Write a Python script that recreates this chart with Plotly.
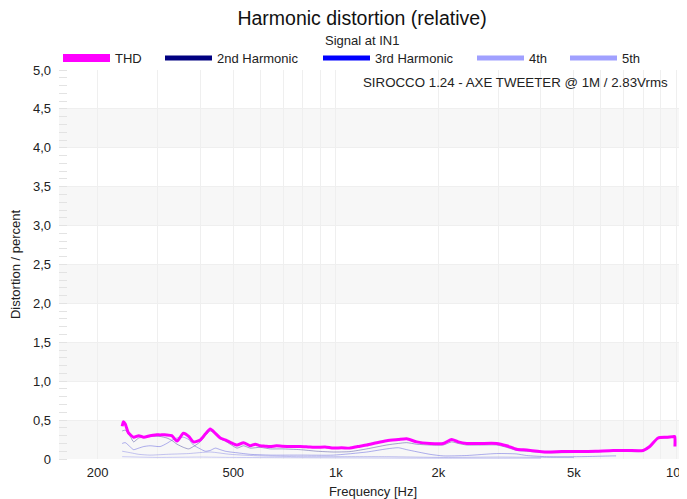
import plotly.graph_objects as go

# ---------------- data ----------------
thd_f = [236, 238, 241, 246, 255, 264, 273, 285, 295, 305, 319, 330, 342, 357, 370, 382,
         400, 414, 428, 443, 458, 474, 490, 513, 536, 561, 580, 600, 620, 642, 670, 695,
         740, 786, 830, 880, 930, 984, 1040, 1100, 1160, 1233, 1320, 1411, 1526, 1615,
         1728, 1891, 2068, 2189, 2288, 2422, 2650, 2966, 3174, 3395, 3632, 4157, 4600,
         5204, 5800, 6519, 7200, 7982, 8352, 8832, 9348, 9840, 9890, 9900]
thd_v = [0.42, 0.48, 0.45, 0.34, 0.28, 0.30, 0.28, 0.30, 0.31, 0.31, 0.31, 0.30, 0.23, 0.33, 0.29, 0.22,
         0.245, 0.32, 0.385, 0.33, 0.27, 0.245, 0.215, 0.18, 0.21, 0.17, 0.19, 0.17, 0.165, 0.16, 0.17, 0.165,
         0.16, 0.16, 0.155, 0.15, 0.155, 0.14, 0.145, 0.14, 0.16, 0.18, 0.21, 0.235, 0.25, 0.26,
         0.22, 0.20, 0.20, 0.25, 0.22, 0.20, 0.20, 0.20, 0.17, 0.125, 0.115, 0.09, 0.095,
         0.095, 0.10, 0.11, 0.11, 0.11, 0.16, 0.27, 0.28, 0.29, 0.29, 0.16]

h2_f = [236, 241, 250, 255, 264, 273, 285, 305, 319, 330, 342, 357, 370, 382, 400, 414, 428,
        443, 458, 474, 490, 513, 536, 561, 600, 642, 695, 786, 880, 984, 1100, 1233, 1411,
        1526, 1615, 1728, 1891, 2068, 2189, 2288, 2422, 2650, 2966, 3174, 3395, 3632, 4157,
        5204, 6519, 7982, 8352, 8832, 9348, 9840, 9890]
h2_v = [0.36, 0.37, 0.28, 0.22, 0.27, 0.28, 0.29, 0.29, 0.27, 0.24, 0.19, 0.15, 0.13, 0.16, 0.22, 0.30, 0.36,
        0.32, 0.26, 0.23, 0.19, 0.14, 0.17, 0.14, 0.15, 0.13, 0.13, 0.12, 0.10, 0.09, 0.095, 0.13, 0.18,
        0.20, 0.21, 0.19, 0.18, 0.18, 0.22, 0.20, 0.18, 0.18, 0.18, 0.15, 0.11, 0.10, 0.08,
        0.085, 0.10, 0.10, 0.15, 0.26, 0.27, 0.28, 0.28]

h3_f = [236, 241, 250, 255, 264, 273, 285, 305, 319, 330, 342, 357, 370, 382, 400, 414, 428,
        443, 458, 474, 490, 513, 561, 642, 786, 984, 1233, 1411, 1526, 1615, 1891, 2068,
        2422, 2966, 3395, 3632, 4157, 5204, 6519, 6650]
h3_v = [0.20, 0.21, 0.15, 0.12, 0.14, 0.16, 0.17, 0.16, 0.20, 0.24, 0.27, 0.28, 0.25, 0.18, 0.13, 0.10, 0.11,
        0.14, 0.12, 0.10, 0.09, 0.08, 0.06, 0.05, 0.05, 0.05, 0.09, 0.13, 0.145, 0.12, 0.06, 0.04,
        0.045, 0.07, 0.065, 0.045, 0.03, 0.03, 0.04, 0.04]

h4_f = [236, 250, 264, 285, 319, 370, 428, 490, 600, 786, 984, 1411, 2068, 3000, 4157, 5000]
h4_v = [0.10, 0.08, 0.06, 0.05, 0.06, 0.07, 0.09, 0.06, 0.04, 0.03, 0.03, 0.03, 0.02, 0.025, 0.02, 0.02]

h5_f = [236, 300, 400, 500, 1000, 2000, 4000]
h5_v = [0.03, 0.02, 0.025, 0.02, 0.015, 0.01, 0.01]

series_names = ["THD", "2nd Harmonic", "3rd Harmonic", "4th", "5th"]
legend_colors = ["#ff00ff", "#000080", "#0000ff", "#a0a0ff", "#a0a0ff"]
plot_colors = ["#ff00ff", "rgba(60,60,150,0.45)", "rgba(80,80,220,0.45)",
               "rgba(140,140,230,0.5)", "rgba(160,160,240,0.5)"]

x_tickvals = [200, 300, 400, 500, 600, 700, 800, 900, 1000, 2000, 3000, 4000, 5000,
              6000, 7000, 8000, 9000, 10000]
x_ticktext = ["200", "", "", "500", "", "", "", "", "1k", "2k", "", "", "5k",
              "", "", "", "", "10k"]
y_tickvals = [0, 0.5, 1.0, 1.5, 2.0, 2.5, 3.0, 3.5, 4.0, 4.5, 5.0]
y_ticktext = ["0", "0,5", "1,0", "1,5", "2,0", "2,5", "3,0", "3,5", "4,0", "4,5", "5,0"]

FONT = "Liberation Sans, Arial, sans-serif"
OFF = 8                      # page body margin: the figure sits 8px in from the window corner
WIN_W, WIN_H = 687, 499
W, H = WIN_W - OFF, WIN_H - OFF


def cx(px):  # window pixel x -> container fraction
    return (px - OFF) / W


def cy(py):  # window pixel y -> container fraction (from bottom)
    return 1 - (py - OFF) / H


fig = go.Figure()

all_data = [(thd_f, thd_v), (h2_f, h2_v), (h3_f, h3_v), (h4_f, h4_v), (h5_f, h5_v)]
for i in [4, 3, 2, 1, 0]:
    f, v = all_data[i]
    fig.add_trace(go.Scatter(
        x=f, y=v, mode="lines", name=series_names[i], showlegend=False,
        line=dict(color=plot_colors[i], width=3 if i == 0 else 1, shape="spline", smoothing=0.6),
        hoverinfo="x+y+name"))

# legend entries, one legend box per entry so each can be placed like the reference
legend_ids = ["legend", "legend2", "legend3", "legend4", "legend5"]
legend_text_x = [115, 217, 375, 529, 622]   # window pixel where each label starts
for i, nm in enumerate(series_names):
    fig.add_trace(go.Scatter(
        x=[None], y=[None], mode="lines", name=nm, legend=legend_ids[i],
        line=dict(color=legend_colors[i], width=8 if i == 0 else 5)))

for lo in [0.0, 1.0, 2.0, 3.0, 4.0]:
    fig.add_shape(type="rect", xref="paper", yref="y", x0=0, x1=1, y0=lo, y1=lo + 0.5,
                  fillcolor="#f7f7f7", line=dict(width=0), layer="below")

fig.add_annotation(text="Signal at IN1", xref="paper", yref="paper", x=0.483, y=1.077,
                   showarrow=False, font=dict(family=FONT, size=13, color="#222"),
                   xanchor="center", yanchor="middle")
fig.add_annotation(text="SIROCCO 1.24 - AXE TWEETER @ 1M / 2.83Vrms", xref="paper", yref="paper",
                   x=0.973, y=0.968, showarrow=False, xanchor="right", yanchor="middle",
                   font=dict(family=FONT, size=13.3, color="#222"))

legend_common = dict(orientation="h", yref="container", y=cy(58), yanchor="middle",
                     xref="container", xanchor="left",
                     font=dict(family=FONT, size=13, color="#222"),
                     bgcolor="rgba(0,0,0,0)", itemwidth=47)
layout_legends = {}
for i, lid in enumerate(legend_ids):
    layout_legends[lid] = dict(legend_common, x=cx(legend_text_x[i] - 57))

fig.update_layout(
    width=W, height=H,
    margin=dict(l=59 - OFF, r=0, t=70 - OFF, b=H - (459 - OFF), autoexpand=False),
    paper_bgcolor="white", plot_bgcolor="white",
    font=dict(family=FONT, size=13, color="#222"),
    title=dict(text="Harmonic distortion (relative)", x=cx(362), xanchor="center", xref="container",
               y=cy(18), yanchor="middle", yref="container",
               font=dict(family=FONT, size=19.5, color="#111")),
    showlegend=True,
    xaxis=dict(type="log", range=[2.1875, 4.031], tickvals=x_tickvals, ticktext=x_ticktext,
               showgrid=True, gridcolor="#efefef", gridwidth=1, zeroline=False, automargin=True,
               showline=False, ticks="", tickfont=dict(size=13), ticklabeloverflow="allow",
               ticklabelstandoff=4,
               title=dict(text="Frequency [Hz]", font=dict(size=13), standoff=8)),
    yaxis=dict(range=[0, 5.0], tickvals=y_tickvals, ticktext=y_ticktext, automargin=True,
               showgrid=True, gridcolor="#efefef", gridwidth=1, zeroline=False,
               showline=False, ticks="", tickfont=dict(size=13), ticklabelstandoff=7,
               minor=dict(dtick=0.1, ticks="inside", ticklen=8, tickcolor="#e3e3e3", showgrid=False),
               title=dict(text="Distortion / percent", font=dict(size=13), standoff=10)),
    **layout_legends,
)

fig.write_html("out.html")
